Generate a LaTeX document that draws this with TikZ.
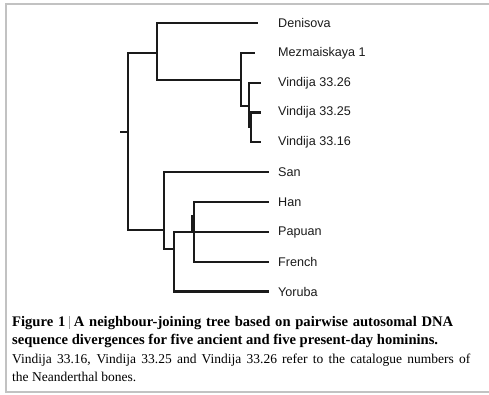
\documentclass[tikz,border=0pt]{standalone}
\usepackage{fontspec}
\setmainfont{Liberation Serif}
\newfontfamily\labelfont{Liberation Sans}
\definecolor{treecol}{HTML}{1A1A1A}
\definecolor{framecol}{HTML}{C2C2C2}
\definecolor{barcol}{HTML}{9A9A9A}
\begin{document}
\begin{tikzpicture}[x=1pt,y=-1pt,
  branch/.style={draw=treecol,line width=2.1pt,line cap=rect},
  leaflabel/.style={anchor=west,inner sep=0pt,font=\labelfont\fontsize{12.6}{14}\selectfont,text=treecol},
  boldline/.style={anchor=base west,inner sep=0pt,font=\bfseries\fontsize{14.6}{16}\selectfont,text=black},
  regline/.style={anchor=base west,inner sep=0pt,font=\fontsize{13.5}{16}\selectfont,text=black},
  frameline/.style={draw=framecol,line width=2pt}]
\useasboundingbox (0,0) rectangle (489,395);
% frame
\coordinate (fa) at (489,4);
\coordinate (fb) at (5.5,4);
\coordinate (fc) at (5.5,392);
\coordinate (fd) at (489,392);
\draw[frameline] (fa) -- (fb) -- (fc) -- (fd);
% internal nodes
\coordinate (rootL) at (121,132);
\coordinate (root) at (128,132);
\coordinate (u) at (157,53);
\coordinate (n2) at (241,80);
\coordinate (n3) at (249,106);
\coordinate (n4) at (251,127);
\coordinate (l) at (164,230);
\coordinate (m) at (174,249);
\coordinate (p) at (194,232);
\coordinate (pk1) at (192.3,216);
\coordinate (pk2) at (192.3,232);
% leaf ends
\coordinate (eDen) at (257,23);
\coordinate (eMez) at (254,53);
\coordinate (eV26) at (260,83);
\coordinate (eV25) at (260,112.5);
\coordinate (eV16) at (260,142);
\coordinate (eSan) at (268,172);
\coordinate (eHan) at (268,202);
\coordinate (ePap) at (268,232);
\coordinate (eFre) at (268,262);
\coordinate (eYor) at (268,291.5);
% branches
\draw[branch] (rootL) -- (root);
\draw[branch] (root) |- (u);
\draw[branch] (root) |- (l);
\draw[branch] (u) |- (eDen);
\draw[branch] (u) |- (n2);
\draw[branch] (n2) |- (eMez);
\draw[branch] (n2) |- (n3);
\draw[branch] (n3) |- (eV26);
\draw[branch] (n3) |- (n4);
\draw[branch] (n4) |- (eV25);
\draw[branch] (n4) |- (eV16);
\draw[branch] (l) |- (eSan);
\draw[branch] (l) |- (m);
\draw[branch] (m) |- (eYor);
\draw[branch] (m) |- (p);
\draw[branch] (p) -- (ePap);
\draw[branch] (p) |- (eHan);
\draw[branch] (p) |- (eFre);
\draw[branch] (pk1) -- (pk2);
% leaf labels
\node[leaflabel] (tDen) at (278,23) {Denisova};
\node[leaflabel] (tMez) at (278,53) {Mezmaiskaya 1};
\node[leaflabel] (tV26) at (278,83) {Vindija 33.26};
\node[leaflabel] (tV25) at (278,112.5) {Vindija 33.25};
\node[leaflabel] (tV16) at (278,142) {Vindija 33.16};
\node[leaflabel] (tSan) at (278,172) {San};
\node[leaflabel] (tHan) at (278,202) {Han};
\node[leaflabel] (tPap) at (278,232) {Papuan};
\node[leaflabel] (tFre) at (278,262) {French};
\node[leaflabel] (tYor) at (278,291.5) {Yoruba};
% caption
\node[boldline] (c1) at (12,326) {\makebox[441pt][s]{Figure 1\hspace{4pt}{\color{barcol}\rule[-2.5pt]{0.6pt}{13pt}}\hspace{4pt}A neighbour-joining tree based on pairwise autosomal DNA}};
\node[boldline] (c2) at (12,344.5) {sequence divergences for five ancient and five present-day hominins.};
\node[regline] (c3) at (12,363) {\makebox[458pt][s]{Vindija 33.16, Vindija 33.25 and Vindija 33.26 refer to the catalogue numbers of}};
\node[regline] (c4) at (12,381.5) {the Neanderthal bones.};
\end{tikzpicture}
\end{document}
